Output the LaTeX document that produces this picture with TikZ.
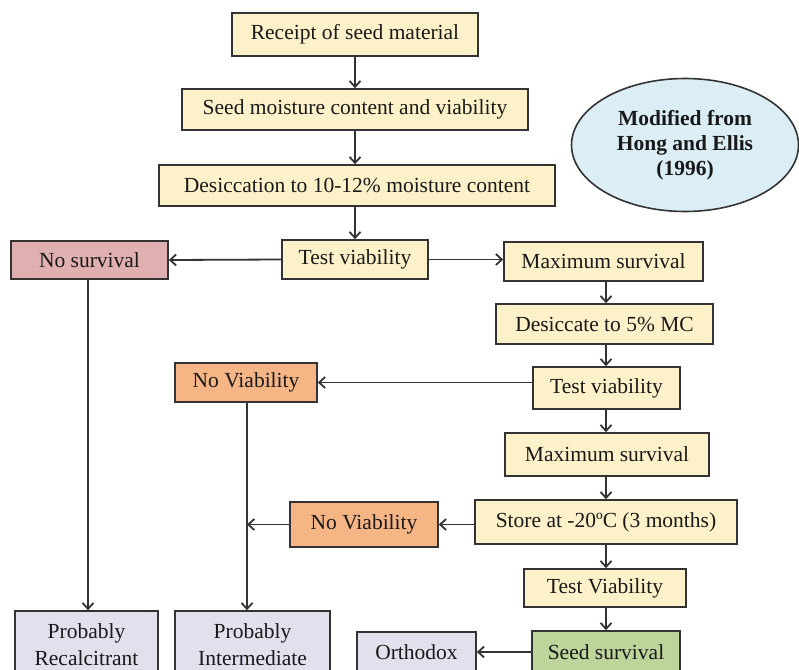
\documentclass[tikz,border=0pt]{standalone}
\usepackage{fontspec}
\setmainfont{Liberation Serif}
\usetikzlibrary{arrows.meta,shapes.geometric}
\definecolor{beige}{HTML}{FDF1C9}
\definecolor{pinkc}{HTML}{E0AFAF}
\definecolor{orangec}{HTML}{F5B585}
\definecolor{lavc}{HTML}{E4DFEC}
\definecolor{greenc}{HTML}{BDD49A}
\definecolor{bluec}{HTML}{DCEEF5}
\definecolor{edgec}{HTML}{333333}
\tikzset{
  box/.style={draw=edgec, line width=1.6pt, rectangle, inner sep=0pt, align=center,
    font=\fontsize{21.5}{27}\selectfont, text=black!90},
  ybox/.style={box, fill=beige},
  conn/.style={draw=edgec, line width=1.8pt, -{Straight Barb[length=6pt,width=11pt,line width=1.8pt]}},
  wh/.style 2 args={minimum width=#1pt, minimum height=#2pt},
}
\begin{document}
\begin{tikzpicture}[x=1pt,y=-1pt]
\clip (0,0) rectangle (799,669);
\fill[white] (0,0) rectangle (799,669);
% main column
\node[ybox, wh={246}{43}] (receipt) at (355,34.5) {Receipt of seed material};
\node[ybox, wh={346}{41}] (moist) at (355,109.5) {Seed moisture content and viability};
\node[ybox, wh={396}{41}] (desic) at (357,185.5) {Desiccation to 10-12\% moisture content};
\node[ybox, wh={146}{39}] (test1) at (355,259.5) {Test viability};
\node[box, fill=pinkc, wh={157}{38}] (nosurv) at (89.5,260) {No survival};
\node[ybox, wh={199}{39}] (max1) at (603.5,261.5) {Maximum survival};
\node[draw=edgec, line width=1.6pt, fill=bluec, ellipse, inner sep=0pt, minimum width=227pt, minimum height=133pt,
  align=center, font=\fontsize{21.5}{25}\selectfont\bfseries, text=black!90] (ell) at (685,145)
  {Modified from\\Hong and Ellis\\(1996)};
% right column
\node[ybox, wh={217}{40}] (des5) at (604.5,324) {Desiccate to 5\% MC};
\node[ybox, wh={147}{42}] (test2) at (606.5,388) {Test viability};
\node[ybox, wh={204}{43}] (max2) at (607,454.5) {Maximum survival};
\node[ybox, wh={262}{44}] (store) at (606,522) {Store at -20ºC (3 months)};
\node[ybox, wh={162}{38}] (test3) at (605,588) {Test Viability};
\node[box, fill=greenc, wh={148}{42}] (seeds) at (606,652) {Seed survival};
% no viability
\node[box, fill=orangec, wh={142}{39}] (nov1) at (246,382.5) {No Viability};
\node[box, fill=orangec, wh={148}{45}] (nov2) at (364,524.5) {No Viability};
% outcomes
\node[box, fill=lavc, wh={143}{68}] (prec) at (86.5,645) {Probably\\Recalcitrant};
\node[box, fill=lavc, wh={155}{68}] (pint) at (252.5,645) {Probably\\Intermediate};
\node[box, fill=lavc, wh={119}{40}] (orth) at (416.5,652) {Orthodox};
% connectors
\draw[conn] (receipt.south) -- (receipt.south |- moist.north);
\draw[conn] (moist.south) -- (moist.south |- desic.north);
\draw[conn] (test1.north |- desic.south) -- (test1.north);
\draw[conn] (test1.west) -- (nosurv.east);
\draw[conn] (test1.east) -- (max1.west |- test1.east);
\coordinate (c1) at (606,0);
\draw[conn] (c1 |- max1.south) -- (c1 |- des5.north);
\draw[conn] (c1 |- des5.south) -- (c1 |- test2.north);
\draw[conn] (c1 |- test2.south) -- (c1 |- max2.north);
\draw[conn] (c1 |- max2.south) -- (c1 |- store.north);
\draw[conn] (c1 |- store.south) -- (c1 |- test3.north);
\draw[conn] (c1 |- test3.south) -- (c1 |- seeds.north);
\draw[conn] (test2.west |- nov1.east) -- (nov1.east);
\draw[conn] (store.west |- nov2.east) -- (nov2.east);
\coordinate (c2) at (247,0);
\coordinate (j) at (c2 |- nov2.west);
\draw[conn] (nov2.west) -- (j);
\draw[conn] (c2 |- nov1.south) -- (c2 |- pint.north);
\coordinate (c3) at (88,0);
\draw[conn] (c3 |- nosurv.south) -- (c3 |- prec.north);
\draw[conn] (seeds.west) -- (orth.east);
\end{tikzpicture}
\end{document}
